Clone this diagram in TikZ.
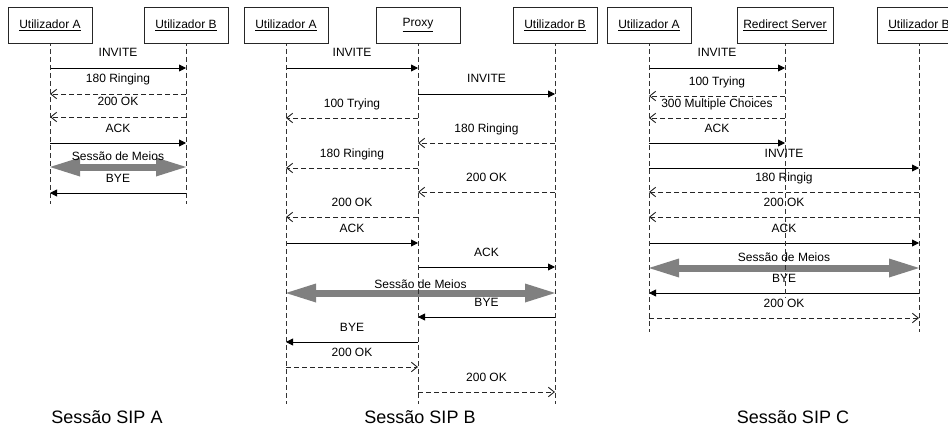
\documentclass[tikz,border=0pt]{standalone}
\usepackage{fontspec}
\setmainfont{Liberation Sans}
\usetikzlibrary{arrows.meta}
\newcommand\sipmsg[5]{\draw[#1] (#2 |- 0,#4) -- node[lbl, yshift=11pt]{#5} (#3 |- 0,#4);}
\newcommand\sipsess[4]{\draw[session] (#1 |- 0,#3) -- node[lbl, yshift=#4]{Sessão de Meios} (#2 |- 0,#3);}
\begin{document}
\begin{tikzpicture}[x=1pt,y=-1pt,
  actor/.style={draw=black!85, line width=0.9pt, minimum width=84pt, minimum height=36pt, inner sep=0pt, fill=white, font=\fontsize{12}{14}\selectfont},
  lifeline/.style={draw=black!80, line width=0.9pt, dash pattern=on 5pt off 3pt},
  req/.style={draw=black, line width=0.9pt, -{Triangle[length=7pt,width=7pt]}},
  resp/.style={draw=black!85, line width=0.9pt, dash pattern=on 5pt off 3pt, -{Straight Barb[length=6pt,width=9.5pt]}},
  session/.style={draw=gray, line width=7pt, {Triangle[length=30pt,width=19pt,line width=0pt]}-{Triangle[length=30pt,width=19pt,line width=0pt]}},
  lbl/.style={font=\fontsize{12}{14}\selectfont, anchor=base, inner sep=0pt, text=black},
  caption/.style={font=\fontsize{18}{21}\selectfont, inner sep=0pt}
]
\path[use as bounding box, clip] (0,0) rectangle (948,428);
\fill[white] (0,0) rectangle (948,428);

% positions of actors
\coordinate (a1) at (50,25);
\coordinate (b1) at (186,25);
\coordinate (a2) at (286,25);
\coordinate (p2) at (418,25);
\coordinate (b2) at (555,25);
\coordinate (a3) at (649,25);
\coordinate (r3) at (785,25);
\coordinate (b3) at (919,25);

% lifeline ends
\coordinate (a1e) at (a1 |- 0,204);
\coordinate (b1e) at (b1 |- 0,204);
\coordinate (a2e) at (a2 |- 0,404);
\coordinate (p2e) at (p2 |- 0,404);
\coordinate (b2e) at (b2 |- 0,404);
\coordinate (a3e) at (a3 |- 0,332);
\coordinate (r3e) at (r3 |- 0,298);
\coordinate (b3e) at (b3 |- 0,332);

% Panel A messages
\sipmsg{req}{a1}{b1}{68}{INVITE}
\sipmsg{resp}{b1}{a1}{94}{180 Ringing}
\sipmsg{resp}{b1}{a1}{117}{200 OK}
\sipmsg{req}{a1}{b1}{143}{ACK}
\sipsess{a1}{b1}{167}{6.5pt}
\sipmsg{req}{b1}{a1}{193}{BYE}

% Panel B messages
\sipmsg{req}{a2}{p2}{68}{INVITE}
\sipmsg{req}{p2}{b2}{94}{INVITE}
\sipmsg{resp}{p2}{a2}{118}{100 Trying}
\sipmsg{resp}{b2}{p2}{143}{180 Ringing}
\sipmsg{resp}{p2}{a2}{168}{180 Ringing}
\sipmsg{resp}{b2}{p2}{192}{200 OK}
\sipmsg{resp}{p2}{a2}{217}{200 OK}
\sipmsg{req}{a2}{p2}{243}{ACK}
\sipmsg{req}{p2}{b2}{267}{ACK}
\sipsess{a2}{b2}{293}{4.5pt}
\sipmsg{req}{b2}{p2}{317}{BYE}
\sipmsg{req}{p2}{a2}{342}{BYE}
\sipmsg{resp}{a2}{p2}{367}{200 OK}
\sipmsg{resp}{p2}{b2}{392}{200 OK}

% Panel C messages
\sipmsg{req}{a3}{r3}{68}{INVITE}
\sipmsg{resp}{r3}{a3}{96}{100 Trying}
\sipmsg{resp}{r3}{a3}{118}{300 Multiple Choices}
\sipmsg{req}{a3}{r3}{143}{ACK}
\sipmsg{req}{a3}{b3}{168}{INVITE}
\sipmsg{resp}{b3}{a3}{192}{180 Ringig}
\sipmsg{resp}{b3}{a3}{217}{200 OK}
\sipmsg{req}{a3}{b3}{243}{ACK}
\sipsess{a3}{b3}{268}{6.5pt}
\sipmsg{req}{b3}{a3}{293}{BYE}
\sipmsg{resp}{a3}{b3}{318}{200 OK}

% lifelines
\foreach \n in {a1,b1,a2,p2,b2,a3,r3,b3}{
  \draw[lifeline] (\n) -- (\n e);
}

% actor boxes
\node[actor] (A1) at (a1) {\underline{Utilizador A}};
\node[actor] (B1) at (b1) {\underline{Utilizador B}};
\node[actor] (A2) at (a2) {\underline{Utilizador A}};
\node[actor] (P2) at (p2) {\underline{Proxy}};
\node[actor] (B2) at (b2) {\underline{Utilizador B}};
\node[actor] (A3) at (a3) {\underline{Utilizador A}};
\node[actor, minimum width=96pt] (R3) at (r3) {\underline{Redirect Server}};
\node[actor] (B3) at (b3) {\underline{Utilizador B}};

% captions
\node[caption] (capA) at (107,417) {Sessão SIP A};
\node[caption] (capB) at (420,417) {Sessão SIP B};
\node[caption] (capC) at (793,417) {Sessão SIP C};
\end{tikzpicture}
\end{document}
